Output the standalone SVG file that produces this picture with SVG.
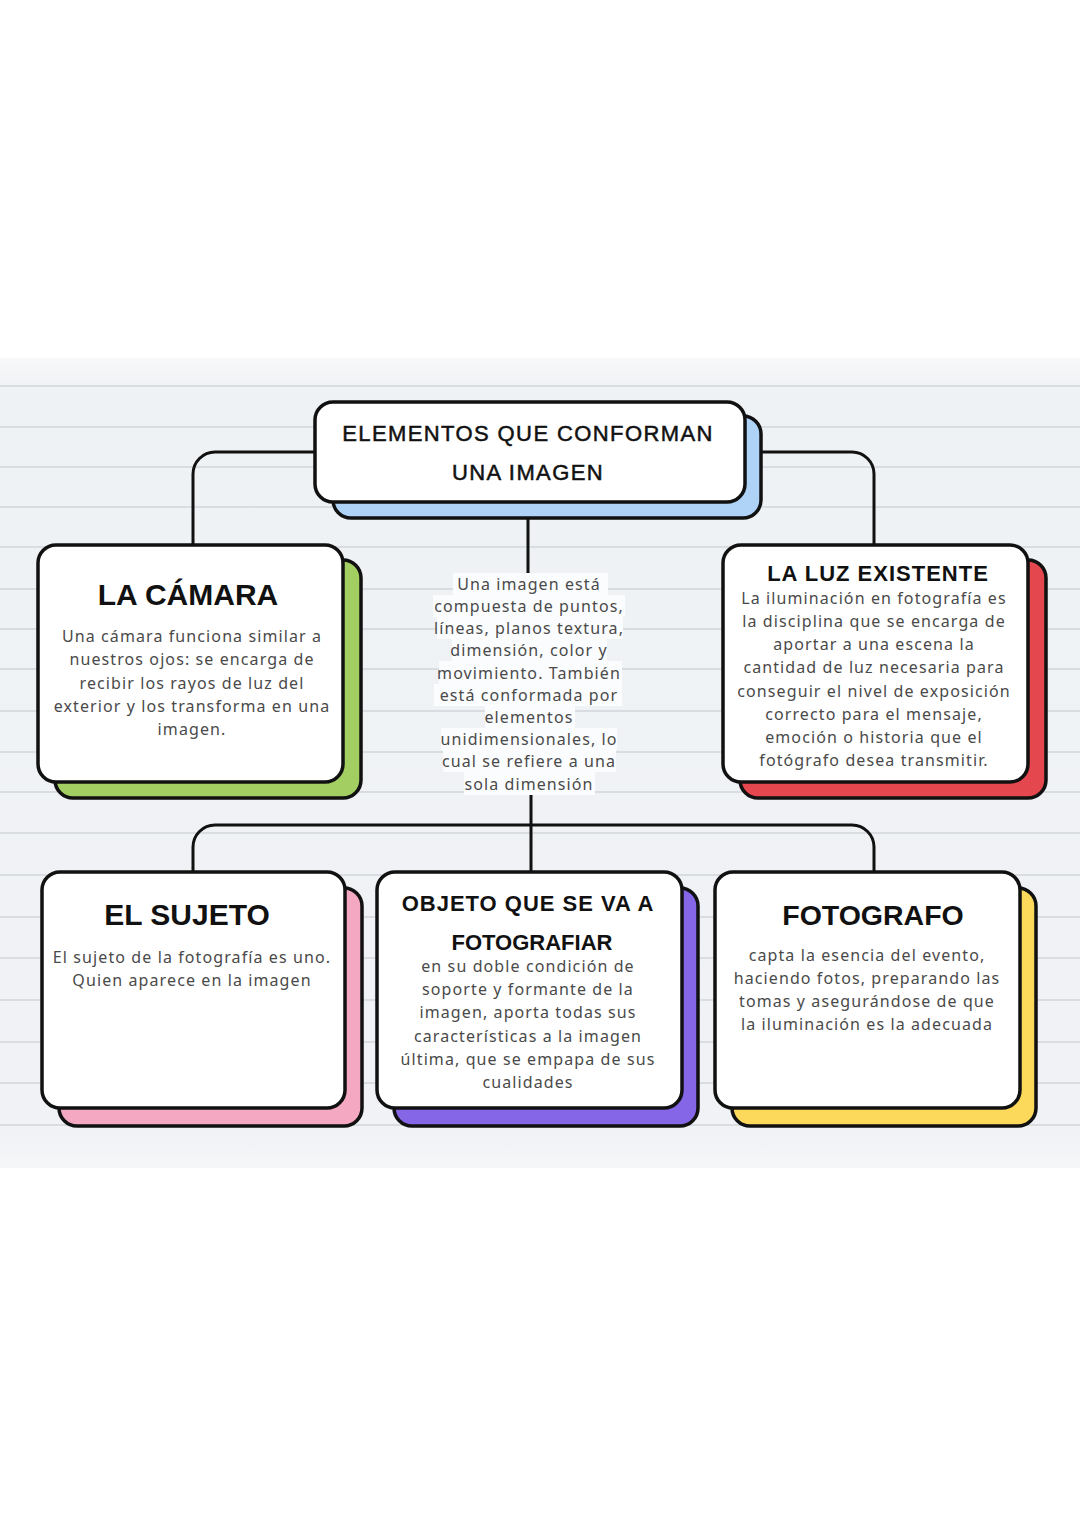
<svg xmlns="http://www.w3.org/2000/svg" width="1080" height="1528" viewBox="0 0 1080 1528">
<defs>
<linearGradient id="bg" x1="0" y1="0" x2="0" y2="1">
<stop offset="0" stop-color="#f7f8fa"/>
<stop offset="0.04" stop-color="#eff2f5"/>
<stop offset="0.96" stop-color="#f0f2f5"/>
<stop offset="1" stop-color="#f6f7f9"/>
</linearGradient>
<style>
.rule{stroke:#d9dde2;stroke-width:2}
.shadow{stroke:#111;stroke-width:3.5}
.card{fill:#fff;stroke:#111;stroke-width:3.5}
.conn{fill:none;stroke:#111;stroke-width:3}
.title{font-family:"Liberation Sans",Arial,sans-serif;font-weight:bold;fill:#111;text-anchor:middle}
.head{font-family:"Liberation Sans",Arial,sans-serif;fill:#111;stroke:#111;stroke-width:0.5;text-anchor:middle;font-size:22px;letter-spacing:1.4px}
.body{font-family:"Noto Sans","Open Sans",sans-serif;font-size:16px;fill:#4a4a4a;text-anchor:middle;letter-spacing:1.1px}
.hl{fill:#fbfcfd}
</style>
</defs>
<rect x="0" y="0" width="1080" height="1528" fill="#ffffff"/>
<rect x="0" y="358" width="1080" height="810" fill="url(#bg)"/>
<g id="rules">
<line class="rule" x1="0" y1="386" x2="1080" y2="386"/>
<line class="rule" x1="0" y1="427" x2="1080" y2="427"/>
<line class="rule" x1="0" y1="467" x2="1080" y2="467"/>
<line class="rule" x1="0" y1="507" x2="1080" y2="507"/>
<line class="rule" x1="0" y1="547" x2="1080" y2="547"/>
<line class="rule" x1="0" y1="589" x2="1080" y2="589"/>
<line class="rule" x1="0" y1="629" x2="1080" y2="629"/>
<line class="rule" x1="0" y1="669" x2="1080" y2="669"/>
<line class="rule" x1="0" y1="711" x2="1080" y2="711"/>
<line class="rule" x1="0" y1="752" x2="1080" y2="752"/>
<line class="rule" x1="0" y1="792" x2="1080" y2="792"/>
<line class="rule" x1="0" y1="833" x2="1080" y2="833"/>
<line class="rule" x1="0" y1="875" x2="1080" y2="875"/>
<line class="rule" x1="0" y1="917" x2="1080" y2="917"/>
<line class="rule" x1="0" y1="958" x2="1080" y2="958"/>
<line class="rule" x1="0" y1="1000" x2="1080" y2="1000"/>
<line class="rule" x1="0" y1="1042" x2="1080" y2="1042"/>
<line class="rule" x1="0" y1="1083" x2="1080" y2="1083"/>
<line class="rule" x1="0" y1="1125" x2="1080" y2="1125"/>
</g>
<g id="connectors">
<path class="conn" d="M315 452 H215 A22 22 0 0 0 193 474 V545"/>
<path class="conn" d="M745 452 H852 A22 22 0 0 1 874 474 V545"/>
<path class="conn" d="M528 519 V573"/>
<path class="conn" d="M531 795 V872"/>
<path class="conn" d="M193 872 V847 A22 22 0 0 1 215 825 H852 A22 22 0 0 1 874 847 V872"/>
</g>
<g id="node-top">
<rect class="shadow" x="333" y="416" width="428" height="102" rx="18" fill="#aed3f6"/>
<rect class="card" x="315" y="402" width="430" height="100" rx="18"/>
<text class="head" x="528" y="441">ELEMENTOS QUE CONFORMAN</text>
<text class="head" x="528" y="480">UNA IMAGEN</text>
</g>
<g id="node-center-text">
<rect class="hl" x="453" y="573" width="155" height="22"/>
<rect class="hl" x="433" y="595" width="192" height="22"/>
<rect class="hl" x="437" y="617" width="186" height="22"/>
<rect class="hl" x="452" y="639" width="155" height="22"/>
<rect class="hl" x="439" y="661" width="183" height="23"/>
<rect class="hl" x="434" y="684" width="188" height="22"/>
<rect class="hl" x="485" y="706" width="90" height="22"/>
<rect class="hl" x="441" y="728" width="176" height="22"/>
<rect class="hl" x="443" y="750" width="173" height="22"/>
<rect class="hl" x="464" y="772" width="131" height="23"/>
<text class="body" x="529" y="590">Una imagen está</text>
<text class="body" x="529" y="612">compuesta de puntos,</text>
<text class="body" x="529" y="634">líneas, planos textura,</text>
<text class="body" x="529" y="656">dimensión, color y</text>
<text class="body" x="529" y="679">movimiento. También</text>
<text class="body" x="529" y="701">está conformada por</text>
<text class="body" x="529" y="723">elementos</text>
<text class="body" x="529" y="745">unidimensionales, lo</text>
<text class="body" x="529" y="767">cual se refiere a una</text>
<text class="body" x="529" y="790">sola dimensión</text>
</g>
<g id="node-camara">
<rect class="shadow" x="55" y="560" width="306" height="238" rx="18" fill="#a3cf62"/>
<rect class="card" x="38" y="545" width="305" height="237" rx="18"/>
<text class="title" x="188" y="605" font-size="30">LA CÁMARA</text>
<text class="body" x="192" y="642">Una cámara funciona similar a</text>
<text class="body" x="192" y="665">nuestros ojos: se encarga de</text>
<text class="body" x="192" y="689">recibir los rayos de luz del</text>
<text class="body" x="192" y="712">exterior y los transforma en una</text>
<text class="body" x="192" y="735">imagen.</text>
</g>
<g id="node-luz">
<rect class="shadow" x="740" y="560" width="306" height="238" rx="18" fill="#e5474f"/>
<rect class="card" x="723" y="545" width="305" height="237" rx="18"/>
<text class="title" x="878" y="581" font-size="22" letter-spacing="1">LA LUZ EXISTENTE</text>
<text class="body" x="874" y="604">La iluminación en fotografía es</text>
<text class="body" x="874" y="627">la disciplina que se encarga de</text>
<text class="body" x="874" y="650">aportar a una escena la</text>
<text class="body" x="874" y="673">cantidad de luz necesaria para</text>
<text class="body" x="874" y="697">conseguir el nivel de exposición</text>
<text class="body" x="874" y="720">correcto para el mensaje,</text>
<text class="body" x="874" y="743">emoción o historia que el</text>
<text class="body" x="874" y="766">fotógrafo desea transmitir.</text>
</g>
<g id="node-sujeto">
<rect class="shadow" x="59" y="888" width="303" height="238" rx="18" fill="#f4a8c2"/>
<rect class="card" x="42" y="872" width="303" height="236" rx="18"/>
<text class="title" x="187" y="925" font-size="30">EL SUJETO</text>
<text class="body" x="192" y="963">El sujeto de la fotografía es uno.</text>
<text class="body" x="192" y="986">Quien aparece en la imagen</text>
</g>
<g id="node-objeto">
<rect class="shadow" x="394" y="888" width="304" height="238" rx="18" fill="#8466e6"/>
<rect class="card" x="377" y="872" width="305" height="236" rx="18"/>
<text class="title" x="528" y="911" font-size="22" letter-spacing="1">OBJETO QUE SE VA A</text>
<text class="title" x="532" y="950" font-size="22">FOTOGRAFIAR</text>
<text class="body" x="528" y="972">en su doble condición de</text>
<text class="body" x="528" y="995">soporte y formante de la</text>
<text class="body" x="528" y="1018">imagen, aporta todas sus</text>
<text class="body" x="528" y="1042">características a la imagen</text>
<text class="body" x="528" y="1065">última, que se empapa de sus</text>
<text class="body" x="528" y="1088">cualidades</text>
</g>
<g id="node-fotografo">
<rect class="shadow" x="732" y="888" width="304" height="238" rx="18" fill="#fcd95b"/>
<rect class="card" x="715" y="872" width="305" height="236" rx="18"/>
<text class="title" x="873" y="925" font-size="28.5">FOTOGRAFO</text>
<text class="body" x="867" y="961">capta la esencia del evento,</text>
<text class="body" x="867" y="984">haciendo fotos, preparando las</text>
<text class="body" x="867" y="1007">tomas y asegurándose de que</text>
<text class="body" x="867" y="1030">la iluminación es la adecuada</text>
</g>
</svg>
